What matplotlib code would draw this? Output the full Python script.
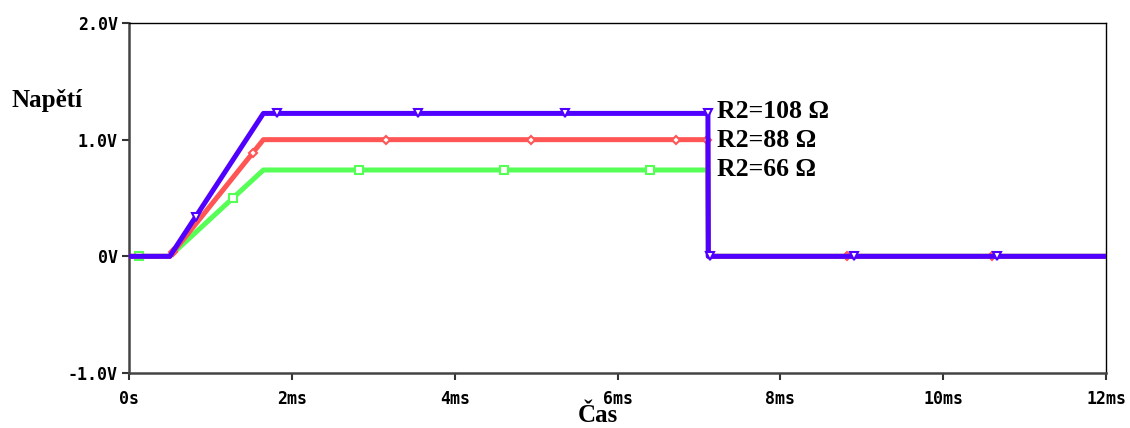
import matplotlib
matplotlib.use("Agg")
import matplotlib.pyplot as plt
import numpy as np

# Data (time in ms, voltage in V)
t = [0.0, 0.5, 1.65, 7.11, 7.115, 12.0]
v_108 = [0.0, 0.0, 1.225, 1.225, 0.0, 0.0]
v_88 = [0.0, 0.0, 1.0, 1.0, 0.0, 0.0]
v_66 = [0.0, 0.0, 0.74, 0.74, 0.0, 0.0]

mk_108 = [0.82, 1.82, 3.55, 5.36, 7.11, 7.14, 8.9, 10.66]
mk_88 = [0.54, 1.52, 3.16, 4.94, 6.72, 7.10, 8.82, 10.6]
mk_66 = [0.12, 1.28, 2.83, 4.61, 6.4]

labels = ["R2=108 Ω", "R2=88 Ω", "R2=66 Ω"]
xticks = [0, 2, 4, 6, 8, 10, 12]
xticklabels = ["0s", "2ms", "4ms", "6ms", "8ms", "10ms", "12ms"]
yticks = [-1, 0, 1, 2]
yticklabels = ["-1.0V", "0V", "1.0V", "2.0V"]

c_blue = "#5000ff"
c_red = "#ff5555"
c_green = "#55ff55"

fig = plt.figure(figsize=(11.3, 4.28), dpi=100)
ax = fig.add_axes([0.1142, 0.1285, 0.9788 - 0.1142, 0.9463 - 0.1285])

series = [(v_66, mk_66, c_green, "s"), (v_88, mk_88, c_red, "D"), (v_108, mk_108, c_blue, "v")]
for i, (v, mk, c, m) in enumerate(series):
    ax.plot(t, v, color=c, lw=3.6, solid_capstyle="butt", zorder=2 + i)
    my = np.interp(mk, t, v)
    ms = 4.5 if m == "D" else 5.5
    ax.plot(mk, my, ls="none", marker=m, ms=ms, mfc="white", mec=c, mew=1.5, zorder=2 + i)

ax.set_xlim(0, 12)
ax.set_ylim(-1, 2)
ax.set_xticks(xticks)
ax.set_xticklabels(xticklabels)
ax.set_yticks(yticks)
ax.set_yticklabels(yticklabels)

for lab in ax.get_xticklabels() + ax.get_yticklabels():
    lab.set_fontfamily("DejaVu Sans Mono")
    lab.set_fontweight("bold")
    lab.set_fontsize(12)

ax.tick_params(axis="both", direction="out", length=5, width=1.5, color="#333333")
ax.tick_params(axis="x", pad=7)
ax.tick_params(axis="y", pad=3)
for s in ["left", "bottom"]:
    ax.spines[s].set_color("#444444")
    ax.spines[s].set_linewidth(1.8)
for s in ["top", "right"]:
    ax.spines[s].set_color("black")
    ax.spines[s].set_linewidth(1.0)

serif = {"family": ["Liberation Serif", "DejaVu Serif"], "weight": "bold"}
fig.text(12 / 1130, 1 - 100 / 428, "Napětí", fontsize=18, ha="left", va="center", **serif)
fig.text(598 / 1130, 1 - 416 / 428, "Čas", fontsize=18, ha="center", va="center", **serif)

ys = [1.24, 0.99, 0.74]
for lab, y in zip(labels, ys):
    ax.text(7.22, y, lab, fontsize=18.5, ha="left", va="center", **serif)

fig.savefig("out.png", dpi=100)
